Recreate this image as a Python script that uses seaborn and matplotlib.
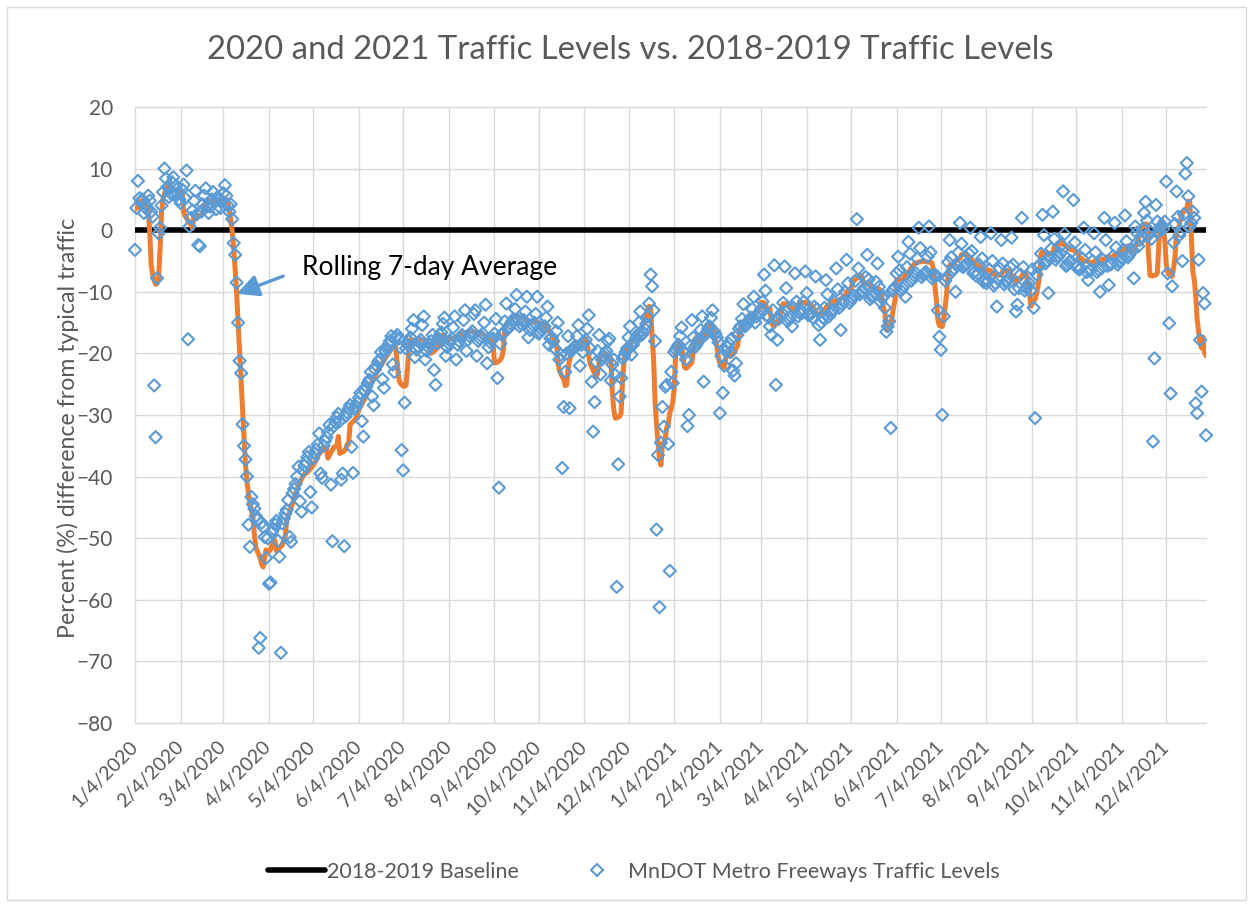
import pandas as pd
import matplotlib
matplotlib.use("Agg")
import matplotlib.pyplot as plt
from matplotlib.lines import Line2D
from matplotlib.patches import Rectangle
import seaborn as sns

# daily % difference from typical (2018-2019) traffic
jan_2020 = [-3.2, 3.6, 8.0, 5.2, 4.6, 5.0, 2.8, 4.2, 3.4, 5.6, 4.8, 3.0, 2.2, -25.2,
            -33.6, -7.8, -0.5, 0.4, 4.0, 6.2, 10.0, 8.4, 7.0, 5.4, 6.0, 7.8, 8.6, 5.8]
feb_2020 = [7.2, 6.0, 5.0, 4.4, 6.6, 7.4, 5.2, 9.7, -17.7, 0.6, 2.0, 3.2, 4.8, 6.4, 2.6,
            -2.4, -2.6, 3.0, 4.2, 5.6, 6.8, 4.0, 2.8, 3.8, 5.0, 6.2, 4.6, 3.4, 5.4]
mar_2020 = [5.0, 3.6, 4.8, 6.0, 7.3, 5.6, 4.0, 3.0, 4.2, 1.8, -2.1, -4.0, -8.5, -15.0,
            -21.2, -23.2, -31.5, -35.0, -37.2, -40.0, -47.8, -51.4, -43.3, -44.5, -45.2,
            -46.4, -47.0, -67.8, -66.2, -47.5, -48.2]
apr_2020 = [-49.8, -53.2, -50.0, -57.4, -57.2, -49.0, -48.5, -47.8, -47.2, -50.4, -53.0,
            -68.6, -47.6, -46.8, -46.0, -45.4, -43.8, -49.8, -50.6, -42.7, -42.0, -41.2,
            -40.0, -38.4, -44.0, -45.7, -39.0, -38.2, -37.6, -36.8]
may_2020 = [-36.0, -42.5, -45.0, -37.0, -36.2, -35.6, -34.8, -33.0, -39.5, -40.2, -35.0,
            -34.2, -33.6, -32.8, -31.6, -41.3, -50.5, -31.8, -31.2, -30.4, -29.8, -31.0,
            -40.5, -39.5, -51.3, -30.2, -29.6, -29.0, -28.4, -35.2, -39.4]
jun_2020 = [-29.0, -28.6, -28.0, -27.2, -26.4, -31.0, -33.5, -26.0, -25.4, -24.8, -24.3,
            -23.0, -27.0, -28.4, -22.6, -22.0, -21.4, -21.0, -19.8, -24.2, -25.6, -19.6,
            -19.2, -18.6, -18.0, -17.2, -21.8, -23.0, -17.4, -17.0]
jul_2020 = [-17.6, -19.0, -35.7, -39.0, -28.0, -19.2, -18.6, -18.0, -17.4, -16.0, -14.6,
            -20.6, -19.4, -18.8, -18.2, -17.8, -15.4, -14.0, -21.0, -19.6, -19.0, -18.6,
            -18.0, -17.0, -22.7, -25.1, -18.4, -17.6, -17.0, -16.6, -15.2]
aug_2020 = [-14.2, -20.4, -19.0, -18.4, -18.0, -17.6, -15.8, -14.0, -21.0, -18.6, -18.0,
            -17.4, -17.0, -14.6, -13.0, -19.6, -17.8, -17.2, -16.8, -16.4, -13.6, -13.0,
            -20.4, -18.0, -17.6, -17.2, -16.8, -15.0, -12.1, -21.6, -19.0]
sep_2020 = [-18.2, -17.8, -17.6, -16.8, -14.4, -24.0, -41.8, -18.4, -17.0, -16.6, -14.8,
            -11.9, -16.0, -15.8, -15.2, -14.8, -14.4, -12.8, -10.5, -14.6, -15.6, -15.2,
            -14.8, -14.6, -13.2, -10.8, -17.4, -16.2, -15.8, -15.4]
oct_2020 = [-15.0, -13.6, -10.8, -16.8, -16.6, -16.2, -15.8, -15.6, -14.2, -12.4, -18.6,
            -17.6, -17.4, -18.0, -19.2, -16.4, -15.0, -21.0, -20.2, -38.6, -28.7, -23.0,
            -20.0, -17.2, -28.9, -19.6, -19.4, -19.0, -18.8, -17.2, -15.4]
nov_2020 = [-22.0, -18.6, -19.8, -18.2, -17.8, -16.0, -13.8, -19.2, -24.6, -32.7, -27.9,
            -21.4, -19.6, -17.0, -23.4, -21.0, -20.4, -20.0, -19.6, -18.0, -17.6, -24.4,
            -21.8, -21.0, -23.5, -57.9, -38.0, -27.0, -24.0, -20.8]
dec_2020 = [-20.4, -19.8, -19.2, -17.4, -15.6, -20.2, -18.6, -18.0, -17.6, -17.0, -15.0,
            -13.2, -17.0, -16.6, -16.0, -15.2, -14.0, -11.9, -7.2, -9.1, -13.0, -18.0,
            -48.6, -36.5, -61.2, -34.5, -28.7, -31.9, -25.4, -25.1, -34.7]
jan_2021 = [-55.3, -23.0, -24.8, -19.8, -19.4, -19.0, -18.6, -17.2, -15.8, -19.6, -20.0,
            -21.0, -31.8, -30.0, -18.8, -14.6, -17.4, -19.0, -18.6, -18.2, -17.8, -16.2,
            -14.0, -24.6, -17.0, -16.6, -16.0, -15.6, -14.2, -13.0, -16.4]
feb_2021 = [-16.8, -17.4, -18.2, -29.7, -20.4, -26.4, -22.0, -19.6, -19.0, -18.4, -19.8,
            -17.6, -22.8, -23.6, -21.6, -17.0, -16.0, -15.6, -14.4, -12.0, -15.6, -15.4,
            -15.0, -14.6, -14.2, -12.8, -10.8, -15.0]
mar_2021 = [-14.0, -13.6, -13.2, -12.8, -11.6, -7.2, -9.8, -13.8, -14.2, -15.6, -17.0,
            -13.0, -5.7, -25.1, -17.8, -14.4, -13.8, -13.4, -11.8, -5.9, -9.4, -14.8,
            -14.4, -14.0, -15.6, -12.6, -7.0, -11.6, -14.0, -13.4, -13.0]
apr_2021 = [-13.4, -11.6, -6.7, -10.2, -13.8, -13.4, -13.6, -14.2, -12.4, -7.5, -12.8,
            -15.4, -17.8, -15.0, -14.2, -12.6, -8.1, -10.4, -14.0, -13.6, -13.2, -13.0,
            -11.6, -6.2, -9.6, -12.6, -16.2, -12.0, -11.6, -10.0]
may_2021 = [-4.8, -8.6, -11.8, -11.4, -11.0, -10.6, -8.2, 1.8, -6.2, -10.4, -10.0, -9.8,
            -9.4, -7.6, -4.0, -8.0, -11.2, -10.8, -10.6, -10.2, -8.4, -5.4, -9.2, -11.6,
            -11.0, -10.8, -12.6, -16.5, -15.6, -14.8, -32.1]
jun_2021 = [-9.8, -9.6, -9.2, -7.0, -4.3, -6.5, -9.8, -9.4, -9.0, -10.8, -6.0, -1.9, -3.8,
            -8.2, -7.8, -7.4, -7.0, -4.6, 0.4, -2.9, -7.6, -7.2, -7.0, -6.8, -4.3, 0.6,
            -3.6, -7.8, -7.4, -7.2]
jul_2021 = [-7.4, -13.0, -17.3, -19.4, -30.0, -14.0, -8.2, -7.6, -5.2, -1.6, -4.4, -6.6,
            -6.2, -10.0, -5.8, -3.6, 1.2, -2.2, -6.0, -5.8, -5.6, -5.4, -3.8, 0.4, -3.4,
            -7.0, -6.8, -7.4, -7.0, -5.6, -1.1]
aug_2021 = [-4.6, -8.4, -8.0, -8.6, -8.2, -6.4, -0.5, -5.0, -9.0, -8.6, -12.4, -8.0, -6.2,
            -1.6, -5.4, -8.8, -8.4, -8.2, -7.8, -6.0, -1.2, -5.6, -9.6, -13.2, -12.1, -9.4,
            -7.2, 2.0, -6.0, -9.8, -9.4]
sep_2021 = [-9.0, -8.6, -9.8, -6.4, -12.6, -30.5, -7.2, -6.0, -5.6, -3.8, 2.5, -0.8, -5.4,
            -5.0, -10.2, -4.6, -3.0, 3.0, -1.4, -4.8, -4.4, -4.2, -3.8, -2.4, 6.3, -0.6,
            -5.8, -5.6, -5.2, -5.0]
oct_2021 = [-3.4, 4.9, -2.0, -6.0, -5.8, -6.4, -6.2, -4.6, 0.4, -3.2, -6.8, -8.1, -6.6,
            -6.4, -5.0, -0.5, -3.6, -6.8, -6.4, -10.0, -6.2, -4.8, 2.0, -1.6, -5.8, -8.9,
            -5.6, -5.4, -4.2, 1.2, -2.8]
nov_2021 = [-5.6, -5.2, -5.0, -4.6, -3.2, 2.4, -1.8, -4.4, -4.0, -3.6, -3.2, -7.8, 0.6,
            -0.4, -2.6, -1.6, -1.0, 0.2, 2.8, 4.6, 1.6, -0.8, -0.2, -1.4, -34.3, -20.8,
            4.1, 1.4, -0.2, 0.4]
dec_2021 = [0.8, 0.2, 1.4, 7.9, -7.0, -15.1, -26.5, -9.1, -2.0, 1.0, 6.3, 2.2, -0.8, -0.2,
            -5.0, 2.6, 9.2, 10.9, 5.5, 0.6, 1.2, 3.0, 2.0, -28.1, -29.7, -4.8, -17.8,
            -26.2, -10.2, -11.9, -33.3]

month_starts = ["2020-01-04", "2020-02-01", "2020-03-01", "2020-04-01", "2020-05-01",
                "2020-06-01", "2020-07-01", "2020-08-01", "2020-09-01", "2020-10-01",
                "2020-11-01", "2020-12-01", "2021-01-01", "2021-02-01", "2021-03-01",
                "2021-04-01", "2021-05-01", "2021-06-01", "2021-07-01", "2021-08-01",
                "2021-09-01", "2021-10-01", "2021-11-01", "2021-12-01"]
month_values = [jan_2020, feb_2020, mar_2020, apr_2020, may_2020, jun_2020, jul_2020,
                aug_2020, sep_2020, oct_2020, nov_2020, dec_2020, jan_2021, feb_2021,
                mar_2021, apr_2021, may_2021, jun_2021, jul_2021, aug_2021, sep_2021,
                oct_2021, nov_2021, dec_2021]

tick_labels = ["1/4/2020", "2/4/2020", "3/4/2020", "4/4/2020", "5/4/2020", "6/4/2020",
               "7/4/2020", "8/4/2020", "9/4/2020", "10/4/2020", "11/4/2020", "12/4/2020",
               "1/4/2021", "2/4/2021", "3/4/2021", "4/4/2021", "5/4/2021", "6/4/2021",
               "7/4/2021", "8/4/2021", "9/4/2021", "10/4/2021", "11/4/2021", "12/4/2021"]
y_ticks = [-80, -70, -60, -50, -40, -30, -20, -10, 0, 10, 20]
baseline_level = 0

# build the daily table
frames = []
for start, vals in zip(month_starts, month_values):
    frames.append(pd.DataFrame({"date": pd.date_range(start, periods=len(vals), freq="D"),
                                "pct": vals}))
df = pd.concat(frames, ignore_index=True)
df["rolling"] = df["pct"].rolling(7, center=True, min_periods=1).mean()
df["baseline"] = baseline_level

grey = "#595959"
blue = "#5B9BD5"
orange = "#ED7D31"
grid_col = "#D9D9D9"

sns.set_theme(style="white")
plt.rcParams["font.family"] = ["Lato", "DejaVu Sans"]

W, H = 1253, 907
fig = plt.figure(figsize=(W / 100, H / 100), dpi=100)
fig.patches.append(Rectangle((7 / W, 1 - 900 / H), 1239 / W, 893 / H, transform=fig.transFigure,
                             fill=False, edgecolor=grid_col, lw=1.0))
ax = fig.add_axes([135 / W, 1 - 723 / H, 1071 / W, 616 / H])

sns.lineplot(data=df, x="date", y="baseline", color="black", lw=4.0, estimator=None,
             solid_capstyle="round", ax=ax, zorder=2)
sns.lineplot(data=df, x="date", y="rolling", color=orange, lw=3.6, estimator=None,
             ax=ax, zorder=3)
sns.scatterplot(data=df, x="date", y="pct", marker="D", s=38, facecolor="none",
                edgecolor=blue, linewidth=1.5, ax=ax, zorder=4, clip_on=False)

ax.set_xlim(df["date"].iloc[0], df["date"].iloc[-1])
ax.set_ylim(y_ticks[0], y_ticks[-1])
ax.set_yticks(y_ticks)
ax.set_xticks(pd.to_datetime(tick_labels, format="%m/%d/%Y"))
ax.set_xticklabels(tick_labels, rotation=45, ha="right", va="center", rotation_mode="anchor")
ax.tick_params(axis="x", length=0, pad=15, labelsize=14, labelcolor=grey)
ax.tick_params(axis="y", length=0, pad=16, labelsize=15, labelcolor=grey)
ax.set_xlabel("")
ax.set_ylabel("")
ax.grid(True, color=grid_col, lw=1.0)
ax.set_axisbelow(True)
for gl in ax.get_xgridlines() + ax.get_ygridlines():
    gl.set_clip_on(False)
for sp in ax.spines.values():
    sp.set_visible(False)

fig.text(630 / W, 1 - 50 / H, "2020 and 2021 Traffic Levels vs. 2018-2019 Traffic Levels",
         ha="center", va="center", fontsize=23.7, color=grey)
fig.text(68 / W, 1 - 428 / H, "Percent (%) difference from typical traffic", rotation=90,
         ha="center", va="center", fontsize=16.7, color=grey)

# arrow points at the rolling line where it crosses down past -10
arrow_date = pd.Timestamp("2020-03-13")
arrow_y = df.loc[df["date"] == arrow_date, "rolling"].iloc[0]
ax.annotate("Rolling 7-day Average", xy=(arrow_date, arrow_y), xytext=(0.156, 0.739),
            textcoords="axes fraction", ha="left", va="center", fontsize=19, color="black",
            arrowprops=dict(arrowstyle="-|>,head_length=0.7,head_width=0.35", color=blue,
                            lw=2.4, shrinkA=12, shrinkB=0, relpos=(0, 0.45)))

handles = [Line2D([], [], color="black", lw=4.0, solid_capstyle="round"),
           Line2D([], [], ls="none", marker="D", ms=6.2, mfc="none", mec=blue, mew=1.5)]
fig.legend(handles, ["2018-2019 Baseline", "MnDOT Metro Freeways Traffic Levels"],
           loc="center", bbox_to_anchor=(634 / W, 1 - 872 / H), ncol=2, frameon=False,
           fontsize=15.5, labelcolor=grey, handlelength=2.65, handletextpad=0.1,
           columnspacing=2.3)

fig.savefig("out.png", dpi=100)
